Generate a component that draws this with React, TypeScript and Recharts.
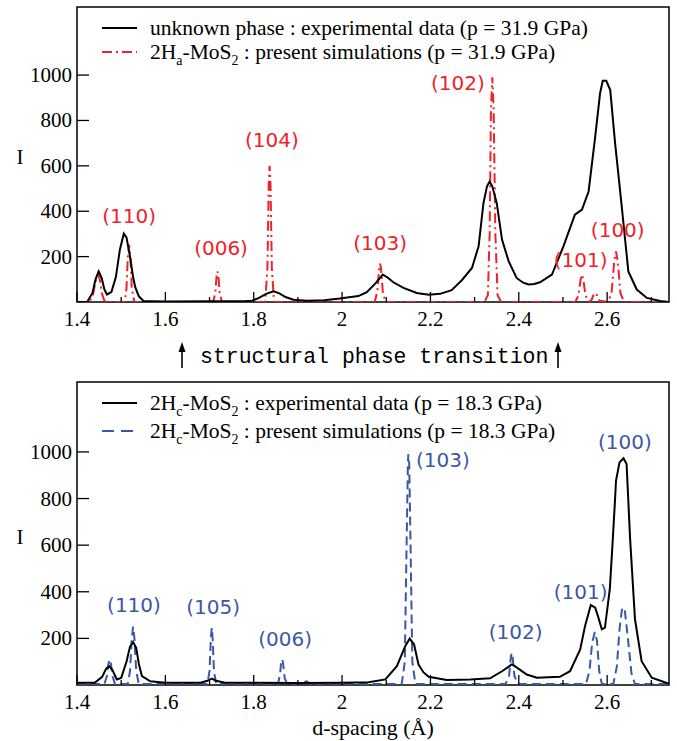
import React from "react";
import { LineChart, Line, XAxis, YAxis, ReferenceArea, ReferenceDot } from "recharts";

// top panel : unknown phase, p = 31.9 GPa
const topExpD = [1.4, 1.423, 1.435, 1.442, 1.449, 1.456, 1.462, 1.468, 1.478, 1.488, 1.497, 1.506, 1.512, 1.52, 1.527, 1.532, 1.54, 1.551, 1.6, 1.7, 1.78, 1.796, 1.812, 1.828, 1.845, 1.858, 1.872, 1.89, 1.92, 1.96, 1.995, 2.02, 2.037, 2.056, 2.075, 2.092, 2.103, 2.116, 2.139, 2.169, 2.196, 2.222, 2.248, 2.271, 2.294, 2.309, 2.32, 2.328, 2.334, 2.34, 2.35, 2.362, 2.377, 2.395, 2.41, 2.422, 2.435, 2.448, 2.475, 2.501, 2.527, 2.543, 2.558, 2.573, 2.584, 2.59, 2.598, 2.607, 2.618, 2.633, 2.648, 2.667, 2.69, 2.72, 2.74];
const topExpI = [0, 0, 40, 100, 135, 105, 55, 33, 45, 110, 230, 301, 285, 200, 110, 64, 25, 4, 2, 3, 3, 6, 18, 36, 47, 38, 22, 10, 6, 8, 15, 22, 26, 43, 81, 121, 108, 87, 62, 40, 32, 36, 52, 96, 150, 245, 436, 510, 531, 510, 437, 275, 180, 106, 85, 77, 79, 87, 121, 245, 385, 407, 487, 729, 920, 975, 975, 934, 700, 421, 135, 55, 18, 4, 0];

const topSimD = [1.4, 1.428, 1.436, 1.441, 1.445, 1.449, 1.452, 1.456, 1.462, 1.468, 1.508, 1.512, 1.515, 1.518, 1.521, 1.524, 1.53, 1.708, 1.713, 1.716, 1.718, 1.72, 1.723, 1.728, 1.826, 1.831, 1.834, 1.836, 1.838, 1.841, 1.846, 2.074, 2.08, 2.084, 2.086, 2.088, 2.092, 2.098, 2.322, 2.33, 2.334, 2.337, 2.34, 2.343, 2.347, 2.352, 2.36, 2.528, 2.535, 2.54, 2.543, 2.546, 2.551, 2.558, 2.565, 2.57, 2.573, 2.577, 2.583, 2.602, 2.61, 2.616, 2.62, 2.624, 2.63, 2.638, 2.74];
const topSimI = [0, 0, 30, 80, 115, 120, 95, 40, 5, 0, 0, 60, 200, 253, 200, 60, 0, 0, 40, 115, 135, 115, 40, 0, 0, 150, 520, 600, 520, 150, 0, 0, 50, 150, 169, 150, 50, 0, 0, 30, 300, 850, 990, 850, 300, 30, 0, 0, 30, 100, 121, 100, 30, 0, 10, 35, 40, 30, 5, 0, 40, 180, 223, 180, 40, 0, 0];

// bottom panel : 2Hc-MoS2, p = 18.3 GPa
const botExpD = [1.4, 1.44, 1.457, 1.466, 1.473, 1.48, 1.49, 1.5, 1.512, 1.52, 1.527, 1.534, 1.54, 1.547, 1.566, 1.6, 1.68, 1.695, 1.705, 1.715, 1.735, 1.9, 2.0, 2.06, 2.098, 2.124, 2.143, 2.153, 2.163, 2.173, 2.184, 2.196, 2.237, 2.29, 2.335, 2.362, 2.384, 2.392, 2.399, 2.418, 2.441, 2.493, 2.516, 2.539, 2.55, 2.563, 2.573, 2.58, 2.588, 2.595, 2.606, 2.612, 2.618, 2.62, 2.628, 2.637, 2.644, 2.652, 2.663, 2.678, 2.701, 2.735, 2.74];
const botExpI = [10, 10, 35, 70, 81, 65, 24, 30, 100, 165, 184, 160, 90, 38, 16, 10, 10, 18, 27, 18, 10, 9, 10, 12, 24, 81, 167, 199, 174, 88, 55, 35, 21, 24, 29, 59, 88, 80, 70, 45, 31, 35, 59, 153, 253, 343, 332, 290, 239, 246, 411, 600, 800, 876, 955, 973, 948, 626, 282, 102, 31, 9, 8];

const botSimD = [1.4, 1.462, 1.468, 1.471, 1.474, 1.477, 1.48, 1.486, 1.515, 1.52, 1.524, 1.527, 1.53, 1.534, 1.54, 1.695, 1.7, 1.703, 1.705, 1.707, 1.71, 1.715, 1.855, 1.86, 1.862, 1.864, 1.866, 1.87, 1.876, 1.912, 1.917, 1.92, 1.923, 1.928, 2.135, 2.142, 2.146, 2.149, 2.15, 2.152, 2.155, 2.159, 2.166, 2.37, 2.378, 2.382, 2.384, 2.386, 2.39, 2.398, 2.552, 2.56, 2.566, 2.572, 2.577, 2.582, 2.588, 2.614, 2.622, 2.628, 2.634, 2.64, 2.647, 2.655, 2.663, 2.74];
const botSimI = [4, 4, 40, 90, 110, 90, 40, 4, 4, 60, 200, 250, 200, 60, 4, 4, 60, 200, 246, 200, 60, 4, 4, 50, 100, 110, 100, 30, 4, 4, 14, 16, 12, 4, 4, 100, 600, 950, 991, 950, 600, 100, 4, 4, 40, 120, 138, 120, 40, 4, 4, 60, 180, 227, 190, 60, 4, 4, 80, 240, 332, 320, 200, 50, 4, 4];

const topPeakLabels = ["(110)", "(006)", "(104)", "(103)", "(102)", "(101)", "(100)"];
const topPeakD = [1.518, 1.726, 1.841, 2.086, 2.262, 2.54, 2.624];
const topPeakI = [380, 240, 714, 262, 965, 187, 319];

const botPeakLabels = ["(110)", "(105)", "(006)", "(103)", "(102)", "(101)", "(100)"];
const botPeakD = [1.529, 1.708, 1.871, 2.228, 2.393, 2.54, 2.64];
const botPeakI = [342, 333, 196, 965, 226, 398, 1043];

const xTicks = [1.4, 1.5, 1.6, 1.7, 1.8, 1.9, 2.0, 2.1, 2.2, 2.3, 2.4, 2.5, 2.6, 2.7];
const yTicks = [200, 400, 600, 800, 1000];

const topLegend = ["unknown phase : experimental data (p = 31.9 GPa)", "2H_a-MoS_2 : present simulations (p = 31.9 GPa)"];
const botLegend = ["2H_c-MoS_2 : experimental data (p = 18.3 GPa)", "2H_c-MoS_2 : present simulations (p = 18.3 GPa)"];

const RED = "#ee2228";
const BLUE = "#3a58a8";
const SERIF = "'Liberation Serif', 'Times New Roman', serif";
const SANS = "'DejaVu Sans', sans-serif";
const W = 677;

const toRows = (d: number[], v: number[]) => d.map((x, i) => ({ d: x, I: v[i] }));

const XTick = (props: any) => {
  const { x, y, payload } = props;
  const v = payload.value as number;
  const major = Math.round(v * 10) % 2 === 0;
  return (
    <g>
      <line x1={x} x2={x} y1={y} y2={y - (major ? 10 : 5)} stroke="#000" strokeWidth={1.3} />
      {major && (
        <text x={x} y={y + 17} textAnchor="middle" dominantBaseline="central" fontFamily={SERIF} fontSize={21} fill="#000">
          {String(Number(v.toFixed(1)))}
        </text>
      )}
    </g>
  );
};

const YTick = (props: any) => {
  const { x, y, payload } = props;
  return (
    <g>
      <line x1={x} x2={x + 12} y1={y} y2={y} stroke="#000" strokeWidth={1.3} />
      <text x={x - 5} y={y} textAnchor="end" dominantBaseline="central" fontFamily={SERIF} fontSize={21} fill="#000">
        {payload.value}
      </text>
    </g>
  );
};

// "2H_a-MoS_2" -> subscripts
function Rich({ s }: { s: string }) {
  const parts = s.split(/_(.)/);
  return (
    <>
      {parts.map((p, i) =>
        i % 2 === 1 ? (
          <span key={i} style={{ fontSize: 14, position: "relative", top: 6 }}>{p}</span>
        ) : (
          <span key={i}>{p}</span>
        )
      )}
    </>
  );
}

function LegendBox({ items, styles, top, rowH }: { items: string[]; styles: { color: string; dash?: string }[]; top: number; rowH: number }) {
  return (
    <div style={{ position: "absolute", left: 100, top, fontFamily: SERIF, fontSize: 21.5, color: "#000" }}>
      {items.map((t, i) => (
        <div key={i} style={{ height: rowH, display: "flex", alignItems: "center", whiteSpace: "nowrap" }}>
          <svg width={50} height={10} style={{ flex: "none" }}>
            <line x1={2} x2={37} y1={5} y2={5} stroke={styles[i].color} strokeWidth={2.2} strokeDasharray={styles[i].dash} />
          </svg>
          <span><Rich s={t} /></span>
        </div>
      ))}
    </div>
  );
}

function Panel({ exp, sim, simColor, simDash, labels, labD, labI, height, xH }: any) {
  return (
    <LineChart width={W} height={height} margin={{ top: 7, right: 8, bottom: 0, left: 0 }}>
      <XAxis dataKey="d" type="number" domain={[1.4, 2.74]} allowDataOverflow ticks={xTicks} tick={<XTick />} tickLine={false} tickSize={0} tickMargin={0} axisLine={false} height={xH} interval={0} />
      <YAxis type="number" domain={[0, 1300]} allowDataOverflow ticks={yTicks} tick={<YTick />} tickLine={false} tickSize={0} tickMargin={0} axisLine={false} width={77} interval={0} />
      <Line data={sim} dataKey="I" stroke={simColor} strokeWidth={2} strokeDasharray={simDash} dot={false} type="linear" isAnimationActive={false} />
      <Line data={exp} dataKey="I" stroke="#000" strokeWidth={2} dot={false} type="linear" isAnimationActive={false} />
      <ReferenceArea x1={1.4} x2={2.74} y1={0} y2={1300} fill="none" stroke="#000" strokeWidth={1.5} fillOpacity={0} />
      {labels.map((l: string, i: number) => (
        <ReferenceDot key={i} x={labD[i]} y={labI[i]} r={0} fill="none" stroke="none"
          label={{ value: l, position: "center", fill: simColor, fontSize: 20, fontFamily: SANS }} />
      ))}
    </LineChart>
  );
}

export default function App() {
  return (
    <div style={{ position: "absolute", left: 0, top: 0, width: W, height: 741, background: "#fff" }}>
      <div style={{ position: "absolute", left: 0, top: 0 }}>
        <Panel exp={toRows(topExpD, topExpI)} sim={toRows(topSimD, topSimI)} simColor={RED} simDash="10 4 2 4"
          labels={topPeakLabels} labD={topPeakD} labI={topPeakI} height={330} xH={28} />
      </div>
      <div style={{ position: "absolute", left: 0, top: 375 }}>
        <Panel exp={toRows(botExpD, botExpI)} sim={toRows(botSimD, botSimI)} simColor={BLUE} simDash="9 5"
          labels={botPeakLabels} labD={botPeakD} labI={botPeakI} height={340} xH={30} />
      </div>
      <LegendBox items={topLegend} styles={[{ color: "#000" }, { color: RED, dash: "10 4 2 4" }]} top={16} rowH={24} />
      <LegendBox items={botLegend} styles={[{ color: "#000" }, { color: BLUE, dash: "12 7" }]} top={389} rowH={28} />
      <svg width={W} height={741} style={{ position: "absolute", left: 0, top: 0, pointerEvents: "none" }}>
        <line x1={182} x2={182} y1={368} y2={346} stroke="#000" strokeWidth={1.6} />
        <path d="M178.5,352 L182,342 L185.5,352 Z" fill="#000" />
        <line x1={558} x2={558} y1={368} y2={346} stroke="#000" strokeWidth={1.6} />
        <path d="M554.5,352 L558,342 L561.5,352 Z" fill="#000" />
        <text x={200} y={357} dominantBaseline="central" fontFamily="'Liberation Mono', 'Courier New', monospace" fontSize={21.5} fill="#000">
          structural phase transition
        </text>
        <text x={20} y={157} textAnchor="middle" dominantBaseline="central" fontFamily={SERIF} fontSize={21} fill="#000">I</text>
        <text x={20} y={537} textAnchor="middle" dominantBaseline="central" fontFamily={SERIF} fontSize={21} fill="#000">I</text>
        <text x={373} y={727} textAnchor="middle" dominantBaseline="central" fontFamily={SERIF} fontSize={22} fill="#000">d-spacing (Å)</text>
      </svg>
    </div>
  );
}
